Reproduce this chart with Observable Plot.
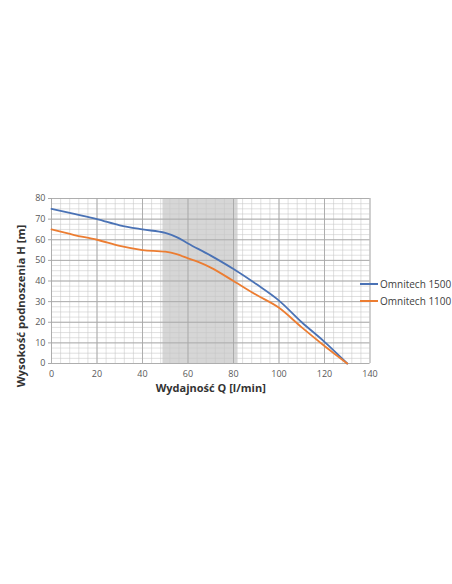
<!DOCTYPE html>
<html>
<head>
<meta charset="utf-8">
<script src="https://cdn.jsdelivr.net/npm/d3@7"></script>
<script src="https://cdn.jsdelivr.net/npm/@observablehq/plot@0.6"></script>
<style>
  body { margin: 0; background: #fff; font-family: "Open Sans", sans-serif; }
  #chart { position: relative; width: 452px; height: 584px; }
  .legend { position: absolute; left: 360px; font-size: 10px; color: #404040; }
  .legend div { display: flex; align-items: center; height: 16.5px; }
  .legend span.sw { display: inline-block; width: 18px; height: 2px; margin-right: 2px; }
</style>
</head>
<body>
<div id="chart"></div>
<script>
// przeplyw Q [l/min] i wysokosc H [m]
const q1500 = [0, 10, 20, 30, 40, 50, 55, 60, 70, 80, 90, 100, 110, 120, 130]
const h1500 = [75, 72.5, 70, 67, 65, 63.3, 61.3, 58.2, 52.3, 45.8, 38.5, 30.5, 20, 10.5, 0]
const q1100 = [0, 10, 20, 30, 40, 50, 55, 60, 65, 70, 80, 90, 100, 110, 120, 130]
const h1100 = [65, 62.3, 60, 57, 55, 54.2, 53, 51, 49, 46.5, 40, 33.3, 27, 17.5, 8.5, 0]
const series = ['Omnitech 1500', 'Omnitech 1100']
const colors = ['#4a72b5', '#ec7d32']
const xTicks = [0, 20, 40, 60, 80, 100, 120, 140]
const yTicks = [0, 10, 20, 30, 40, 50, 60, 70, 80]
const band = [49, 82] // zakres zalecany

const data = [
  ...q1500.map((q, i) => ({q, h: h1500[i], s: series[0]})),
  ...q1100.map((q, i) => ({q, h: h1100[i], s: series[1]}))
]

let chart = Plot.plot({
  width: 452,
  height: 584,
  marginLeft: 51,
  marginRight: 82.5,
  marginTop: 198,
  marginBottom: 221,
  style: { fontFamily: "'Open Sans', sans-serif", fontSize: 9, color: '#595959' },
  x: { domain: [0, 140], ticks: xTicks },
  y: { domain: [0, 80], ticks: yTicks },
  marks: [
    Plot.rect([band], { x1: d => d[0], x2: d => d[1], y1: 0, y2: 80, fill: '#d6d6d6' }),
    Plot.ruleX(d3.range(0, 141, 4), { stroke: '#c8c8c8', strokeWidth: 0.8, strokeOpacity: 0.7 }),
    Plot.ruleY(d3.range(0, 80.1, 2.5), { stroke: '#c8c8c8', strokeWidth: 0.8, strokeOpacity: 0.7 }),
    Plot.ruleX(xTicks, { stroke: '#a8a8a8', strokeWidth: 0.9 }),
    Plot.ruleY(yTicks, { stroke: '#a8a8a8', strokeWidth: 0.9 }),
    Plot.axisX({ ticks: xTicks, tickSize: 0, tickPadding: 7, label: null }),
    Plot.axisY({ ticks: yTicks, tickSize: 3, tickPadding: 3, label: null, stroke: '#a8a8a8' }),
    Plot.line(data, {
      x: 'q', y: 'h', z: 's',
      stroke: d => colors[series.indexOf(d.s)],
      strokeWidth: 1.8,
      curve: 'monotone-x'
    }),
    Plot.text(['Wydajność Q [l/min]'], {
      frameAnchor: 'bottom', dy: 25, lineAnchor: 'middle', textAnchor: 'middle',
      fontWeight: 'bold', fontSize: 11, fill: '#333'
    }),
    Plot.text(['Wysokość podnoszenia H [m]'], {
      frameAnchor: 'left', rotate: -90, dx: -30, dy: 25, lineAnchor: 'middle', textAnchor: 'middle',
      fontWeight: 'bold', fontSize: 11.3, fill: '#333'
    })
  ]
})

d3.select('#chart').append(() => chart)

const legend = d3.select('#chart').append('div').attr('class', 'legend').style('top', '276px')
series.forEach((s, i) => {
  const row = legend.append('div')
  row.append('span').attr('class', 'sw').style('background', colors[i])
  row.append('span').text(s)
})
</script>
</body>
</html>
